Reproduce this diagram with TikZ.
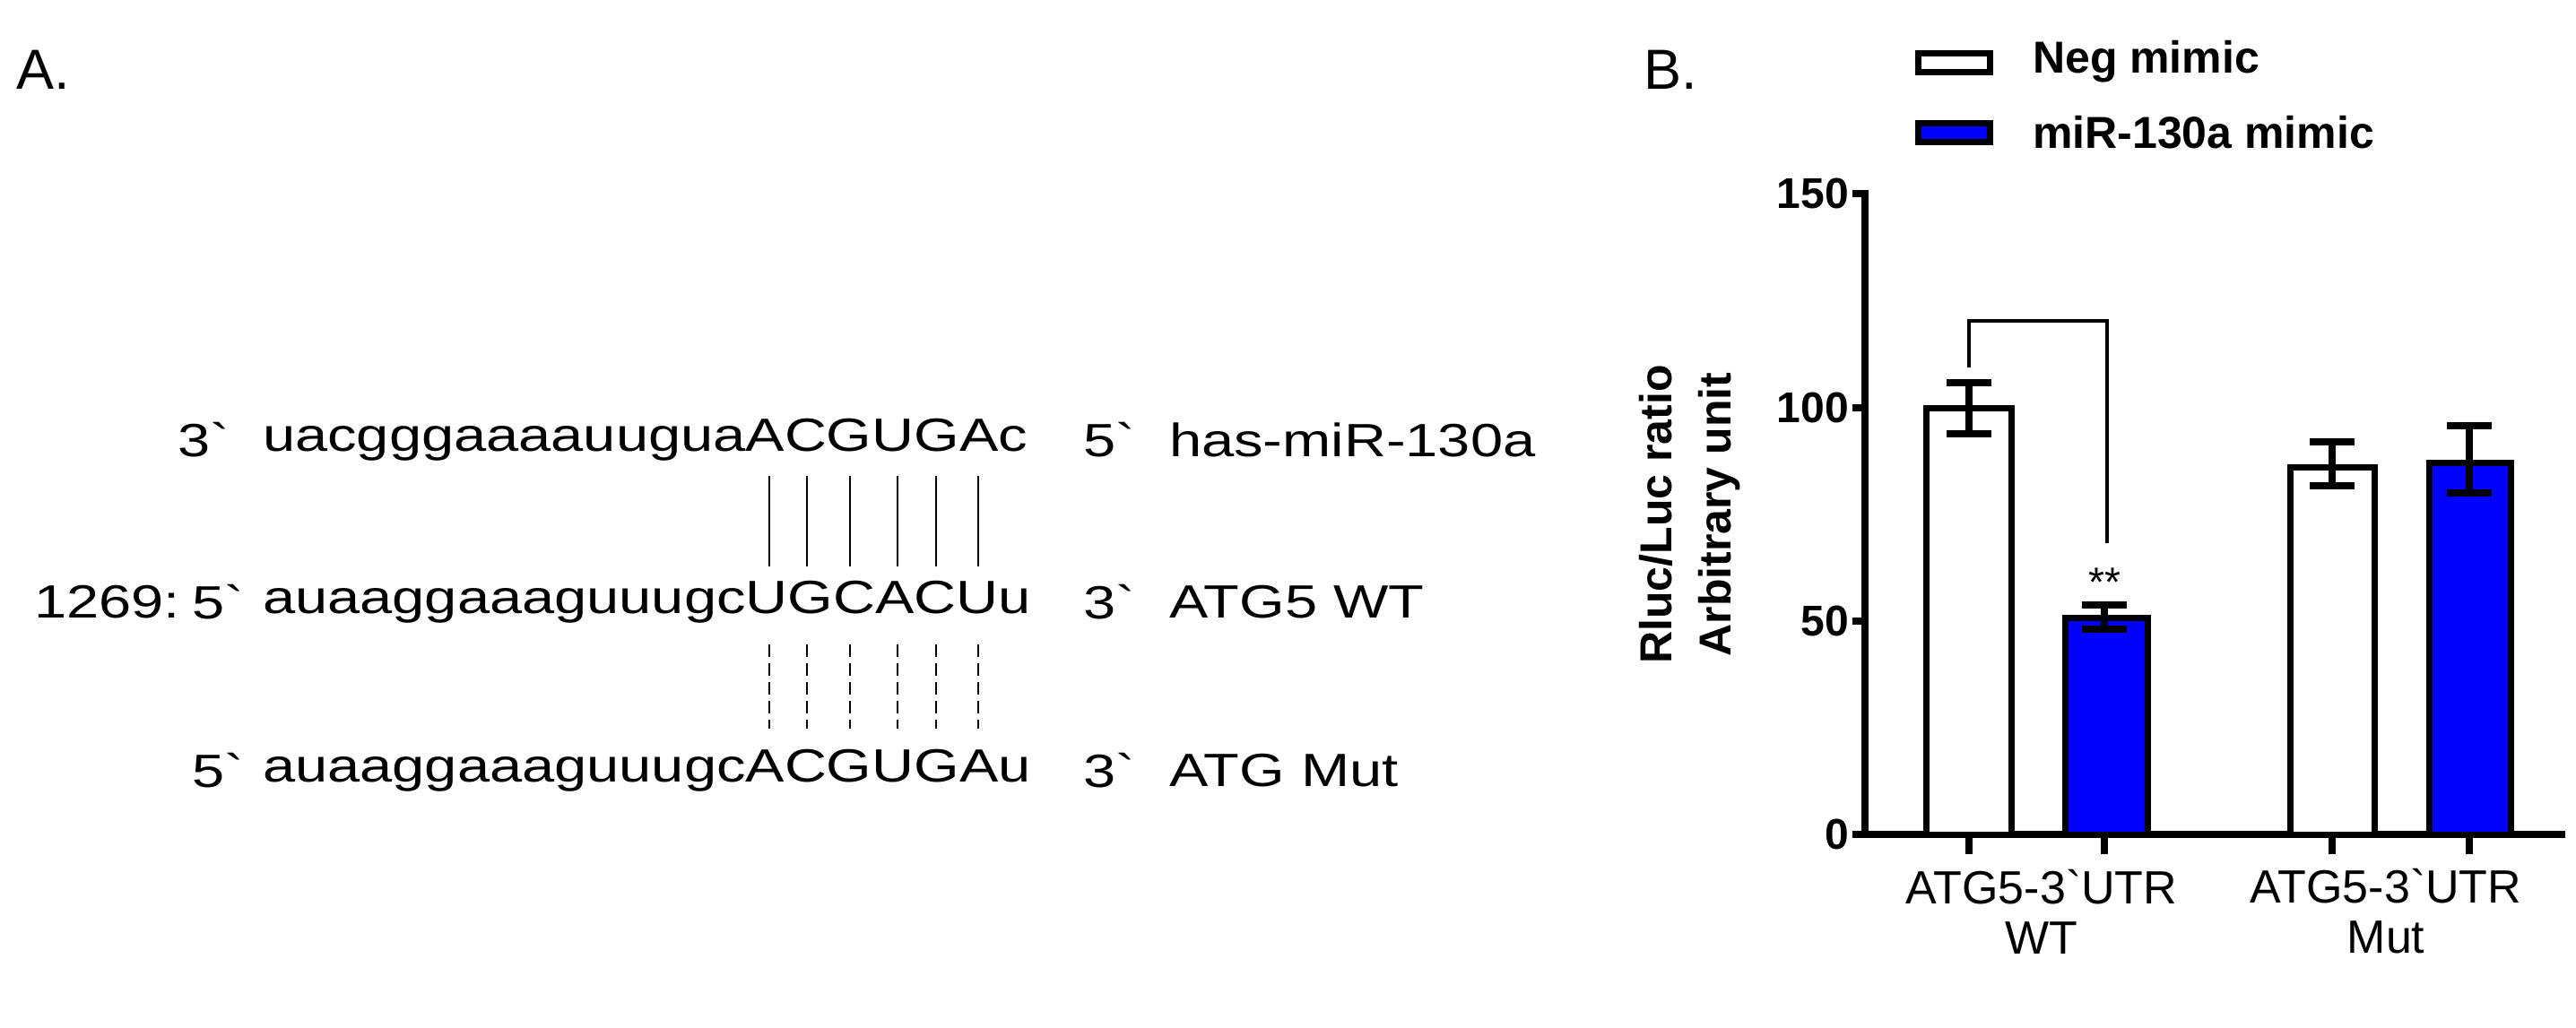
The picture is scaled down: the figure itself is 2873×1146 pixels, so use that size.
\documentclass[tikz,border=0pt]{standalone}
\usepackage{fontspec}
\usepackage{graphicx}
\newfontfamily\af{Liberation Sans}
\newcommand\sq[1]{\scalebox{1}[0.8]{#1}}
\begin{document}
\begin{tikzpicture}[x=1pt,y=-1pt,
  seq/.style={inner sep=0pt,anchor=west,font=\af\fontsize{65}{70}\selectfont},
  tick/.style={inner sep=0pt,anchor=east,font=\af\bfseries\fontsize{48}{50}\selectfont},
  leg/.style={inner sep=0pt,anchor=west,font=\af\bfseries\fontsize{50}{55}\selectfont},
  cat/.style={inner sep=0pt,align=center,font=\af\fontsize{52}{56}\selectfont},
  axl/.style={line width=8pt},
  bar/.style={line width=7pt},
  pair/.style={line width=2.5pt},
  dpair/.style={line width=2.5pt,dash pattern=on 14pt off 7pt}]
\useasboundingbox (0,0) rectangle (2873,1146);
\fill[white] (0,0) rectangle (2873,1146);
% Panel A
\node[inner sep=0pt,anchor=west,font=\af\fontsize{63}{66}\selectfont] (A) at (18,78) {A.};
\node[seq] (r1a) at (198,491) {\sq{3`}};
\node[seq] (r1b) at (293,491) {\sq{uacgggaaaauuguaACGUGAc}};
\node[seq] (r1c) at (1208,491) {\sq{5`}};
\node[seq] (r1d) at (1304,491) {\sq{has-miR-130a}};
\node[seq] (r2n) at (38,672) {\sq{1269:}};
\node[seq] (r2a) at (214,672) {\sq{5`}};
\node[seq] (r2b) at (293,672) {\sq{auaaggaaaguuugcUGCACUu}};
\node[seq] (r2c) at (1208,672) {\sq{3`}};
\node[seq] (r2d) at (1304,672) {\sq{ATG5 WT}};
\node[seq] (r3a) at (214,860) {\sq{5`}};
\node[seq] (r3b) at (293,860) {\sq{auaaggaaaguuugcACGUGAu}};
\node[seq] (r3c) at (1208,860) {\sq{3`}};
\node[seq] (r3d) at (1304,860) {\sq{ATG Mut}};
\foreach \px in {858,900,948,1001,1044,1091}{
  \draw[pair] (\px,531) -- (\px,632);
  \draw[dpair] (\px,719) -- (\px,813);
}
% Panel B
\node[inner sep=0pt,anchor=west,font=\af\fontsize{63}{66}\selectfont] (B) at (1833,78) {B.};
\draw[line width=7pt] (2139,59) rectangle (2219,80);
\draw[line width=7pt,fill=blue] (2139,137) rectangle (2219,158);
\node[leg] (l1) at (2267,69) {Neg mimic};
\node[leg] (l2) at (2267,148) {miR-130a mimic};
% axes
\draw[axl] (2080,212) -- (2080,931) -- (2861,931);
\foreach \v/\yy in {0/931,50/693,100/455,150/216}{
  \draw[axl] (2066,\yy) -- (2080,\yy);
  \node[tick] at (2062,\yy) {\v};
}
\foreach \tx in {2196,2347,2601,2754}{\draw[axl] (\tx,931) -- (\tx,953);}
% bars
\draw[bar,fill=white] (2148,931) rectangle (2243,455);
\draw[bar,fill=blue] (2303,931) rectangle (2395,689);
\draw[bar,fill=white] (2554,931) rectangle (2648,521);
\draw[bar,fill=blue] (2709,931) rectangle (2800,516);
% error bars
\foreach \cx/\lo/\hi in {2196/484/427,2347/702/675,2601/542/493,2754/550/475}{
  \draw[axl] (\cx,\lo) -- (\cx,\hi);
  \draw[axl] (\cx-25,\lo) -- (\cx+25,\lo);
  \draw[axl] (\cx-25,\hi) -- (\cx+25,\hi);
}
% bracket
\draw[line width=3.5pt] (2196,410) -- (2196,358) -- (2350,358) -- (2350,606);
\node[inner sep=0pt,font=\af\fontsize{46}{48}\selectfont] (st) at (2347,650) {**};
% axis title
\node[inner sep=0pt,rotate=90,align=center,font=\af\bfseries\fontsize{50}{66}\selectfont] (yt) at (1885,574) {Rluc/Luc ratio\\Arbitrary unit};
% categories
\node[cat] (c1) at (2277,1017) {ATG5-3`UTR\\WT};
\node[cat] (c2) at (2661,1017) {ATG5-3`UTR\\Mut};
\end{tikzpicture}
\end{document}
